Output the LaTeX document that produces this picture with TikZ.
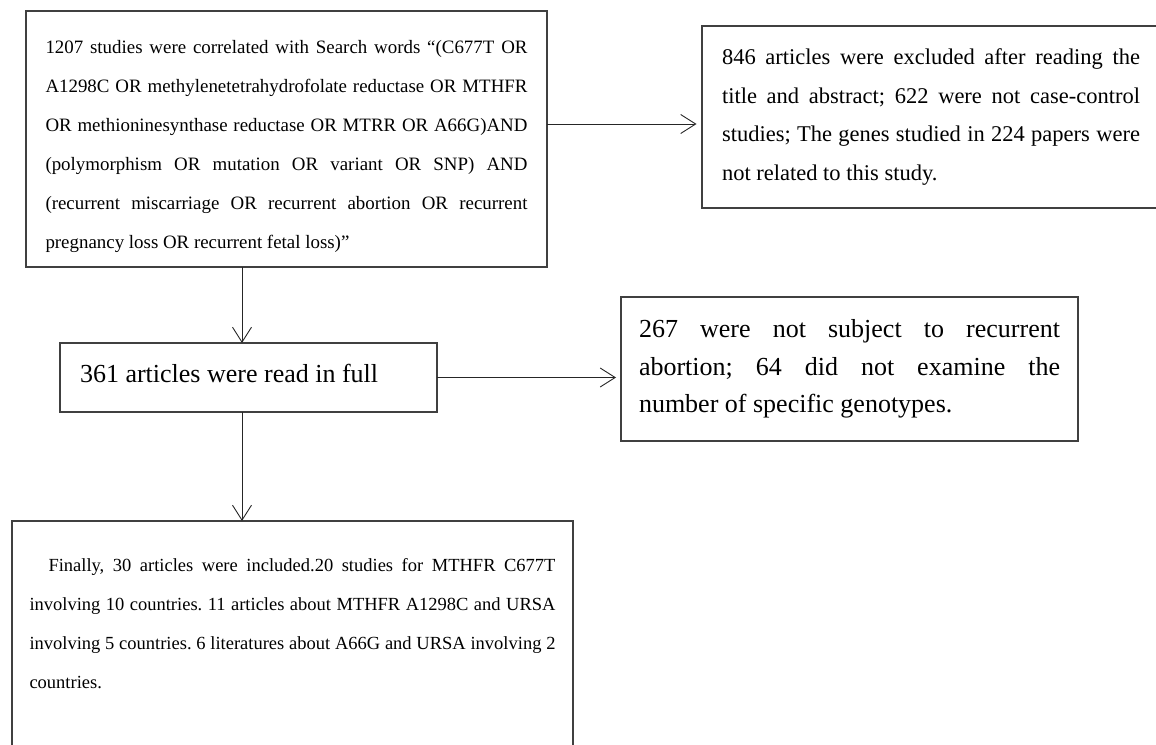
\documentclass[tikz,border=0pt]{standalone}
\usepackage{fontspec}
\setmainfont{Liberation Serif}
\usetikzlibrary{arrows.meta,calc}
\begin{document}
\frenchspacing
\begin{tikzpicture}[x=1pt,y=-1pt,
  box/.style={draw=black!75, line width=1.2pt, inner sep=0pt, outer sep=0pt, anchor=north west, text=black},
  arr/.style={draw=black!85, line width=0.9pt, -{Straight Barb[length=15pt,width=19pt,line width=0.9pt]}}]
\path[use as bounding box, clip] (0,0) rectangle (1156,744);
\node[box, minimum width=521pt, minimum height=256pt] (b1) at (26,11)
  {\parbox{482pt}{\frenchspacing\fontsize{18.9}{39}\selectfont\vspace*{14pt}%
  1207 studies were correlated with Search words “(C677T OR\linebreak
  A1298C OR methylenetetrahydrofolate reductase OR MTHFR\linebreak
  OR methioninesynthase reductase OR MTRR OR A66G)AND\linebreak
  (polymorphism OR mutation OR variant OR SNP) AND\linebreak
  (recurrent miscarriage OR recurrent abortion OR recurrent\linebreak
  pregnancy loss OR recurrent fetal loss)”}};
\node[box, minimum width=458pt, minimum height=182pt] (b2) at (702,26)
  {\parbox{418pt}{\frenchspacing\fontsize{22.5}{38.5}\selectfont
  846 articles were excluded after reading the\linebreak
  title and abstract; 622 were not case-control\linebreak
  studies; The genes studied in 224 papers were\linebreak
  not related to this study.}};
\node[box, minimum width=377pt, minimum height=69pt] (b3) at (60,343)
  {\parbox{337pt}{\fontsize{26}{32}\selectfont 361 articles were read in full\rule[-8pt]{0pt}{0pt}}};
\node[box, minimum width=457pt, minimum height=144pt] (b4) at (621,297)
  {\parbox{421pt}{\frenchspacing\fontsize{26}{37.5}\selectfont
  267 were not subject to recurrent\linebreak
  abortion; 64 did not examine the\linebreak
  number of specific genotypes.}};
\node[box, minimum width=561pt, minimum height=229pt] (b5) at (12,521)
  {\parbox[c][229pt][t]{526pt}{\frenchspacing\fontsize{18.5}{39}\selectfont\vspace*{37pt}%
  \hspace*{19pt}Finally, 30 articles were included.20 studies for MTHFR C677T\linebreak
  involving 10 countries. 11 articles about MTHFR A1298C and URSA\linebreak
  involving 5 countries. 6 literatures about A66G and URSA involving 2\linebreak
  countries.}};
\coordinate (ax) at (242,0);
\coordinate (a1) at ($(b1.east)+(0,-15)$);
\draw[arr, shorten >=5.5pt] (a1) -- (a1 -| b2.west);
\draw[arr] (b1.south -| ax) -- (b3.north -| ax);
\draw[arr, shorten >=5pt] (b3.east) -- (b3.east -| b4.west);
\draw[arr] (b3.south -| ax) -- (b5.north -| ax);
\end{tikzpicture}
\end{document}
